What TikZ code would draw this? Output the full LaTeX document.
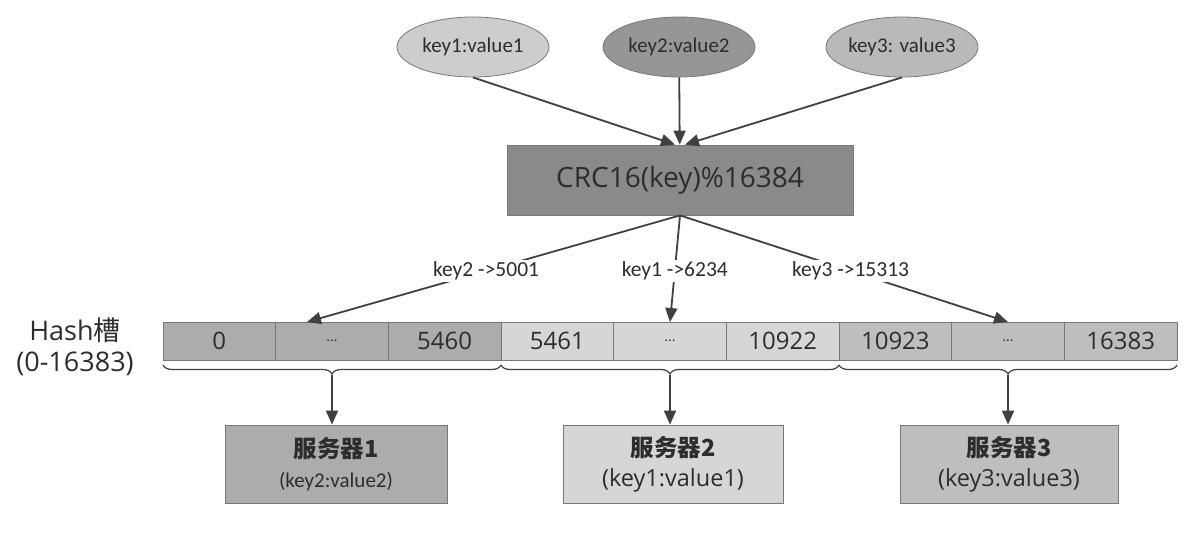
\documentclass[tikz,border=0pt]{standalone}
\usepackage{fontspec}
\setmainfont{Open Sans}
\newfontfamily\cjk{Noto Sans CJK SC}
\newfontfamily\cali{Carlito}
\usetikzlibrary{arrows.meta,positioning,shapes.geometric,decorations.pathreplacing}
\definecolor{hline}{RGB}{64,64,64}
\definecolor{htext}{RGB}{45,45,45}
\definecolor{hborder}{RGB}{120,120,120}
\definecolor{crcgray}{RGB}{138,138,138}
\definecolor{klight}{RGB}{205,205,205}
\definecolor{kdark}{RGB}{150,150,150}
\definecolor{kmid}{RGB}{185,185,185}
\definecolor{grpone}{RGB}{172,172,172}
\definecolor{grptwo}{RGB}{214,214,214}
\definecolor{grpthree}{RGB}{190,190,190}

\begin{document}
\begin{tikzpicture}[x=1pt, y=-1pt, every node/.style={text=htext},
    keynode/.style={ellipse, draw=hborder, line width=0.8pt, minimum width=152pt, minimum height=60pt, inner sep=0pt, font=\cali\fontsize{21}{25}\selectfont},
    crcbox/.style={rectangle, draw=hborder, line width=0.8pt, fill=crcgray, minimum width=346pt, minimum height=70pt, font=\fontsize{28}{33}\selectfont},
    cell/.style={rectangle, draw=hborder, line width=0.8pt, minimum width=112.67pt, minimum height=38pt, inner sep=0pt, outer sep=0pt, font=\fontsize{24}{28}\selectfont},
    dots/.style={cell, font=\fontsize{14}{16}\selectfont},
    srv/.style={rectangle, draw=hborder, line width=0.8pt, minimum height=78pt, align=center, font=\fontsize{23.5}{30}\selectfont},
    arr/.style={-{Triangle[length=14pt, width=12pt]}, line width=1.8pt, draw=hline},
    brc/.style={decorate, decoration={brace, mirror, amplitude=9pt}, line width=1.2pt, draw=hline},
    lbl/.style={fill=white, inner sep=2pt, font=\cali\fontsize{21.5}{25}\selectfont}
]
  \useasboundingbox (0,0) rectangle (1192,552);
  % keys and hash function
  \node[keynode, fill=klight] (k1) at (473,47) {key1:value1};
  \node[keynode, fill=kdark] (k2) at (679,47) {key2:value2};
  \node[keynode, fill=kmid] (k3) at (902,47) {key3: value3};
  \node[crcbox] (crc) at (680,180) {CRC16(key)\%16384};
  \draw[arr] (k1.south) -- ([xshift=-5pt]crc.north);
  \draw[arr] (k2) -- (crc);
  \draw[arr] (k3.south) -- ([xshift=5pt]crc.north);

  % hash slots
  \node[align=center, font=\fontsize{27}{31}\selectfont] (hash) at (75,347) {Hash{\cjk 槽}\\(0-16383)};
  \node[cell, fill=grpone, anchor=west] (c1) at (163,341) {0};
  \node[dots, fill=grpone, right=0pt of c1] (c2) {...};
  \node[cell, fill=grpone, right=0pt of c2] (c3) {5460};
  \node[cell, fill=grptwo, right=0pt of c3] (c4) {5461};
  \node[dots, fill=grptwo, right=0pt of c4] (c5) {...};
  \node[cell, fill=grptwo, right=0pt of c5] (c6) {10922};
  \node[cell, fill=grpthree, right=0pt of c6] (c7) {10923};
  \node[dots, fill=grpthree, right=0pt of c7] (c8) {...};
  \node[cell, fill=grpthree, right=0pt of c8] (c9) {16383};

  \draw[arr] (crc.south) -- node[lbl, pos=0.52] (l2) {key2 ->5001} ([xshift=-25pt]c2.north);
  \draw[arr] (crc.south) -- node[lbl, pos=0.52] (l1) {key1 ->6234} (c5.north);
  \draw[arr] (crc.south) -- node[lbl, pos=0.52] (l3) {key3 ->15313} (c8.north);

  % braces
  \draw[brc] ([yshift=-5pt]c1.south west) -- node[coordinate, yshift=-10pt] (t1) {} ([yshift=-5pt]c3.south east);
  \draw[brc] ([yshift=-5pt]c4.south west) -- node[coordinate, yshift=-10pt] (t2) {} ([yshift=-5pt]c6.south east);
  \draw[brc] ([yshift=-5pt]c7.south west) -- node[coordinate, yshift=-10pt] (t3) {} ([yshift=-5pt]c9.south east);

  % servers
  \node[srv, fill=grpone, minimum width=222pt] (s1) at (336,464) {{\cjk\bfseries 服务器1}\\{\cali\fontsize{21}{25}\selectfont (key2:value2)}};
  \node[srv, fill=grptwo, minimum width=220pt] (s2) at (673,464) {{\cjk\bfseries 服务器2}\\(key1:value1)};
  \node[srv, fill=grpthree, minimum width=218pt] (s3) at (1009,464) {{\cjk\bfseries 服务器3}\\(key3:value3)};
  \draw[arr] (t1) -- (t1 |- s1.north);
  \draw[arr] (t2) -- (t2 |- s2.north);
  \draw[arr] (t3) -- (t3 |- s3.north);
\end{tikzpicture}
\end{document}
